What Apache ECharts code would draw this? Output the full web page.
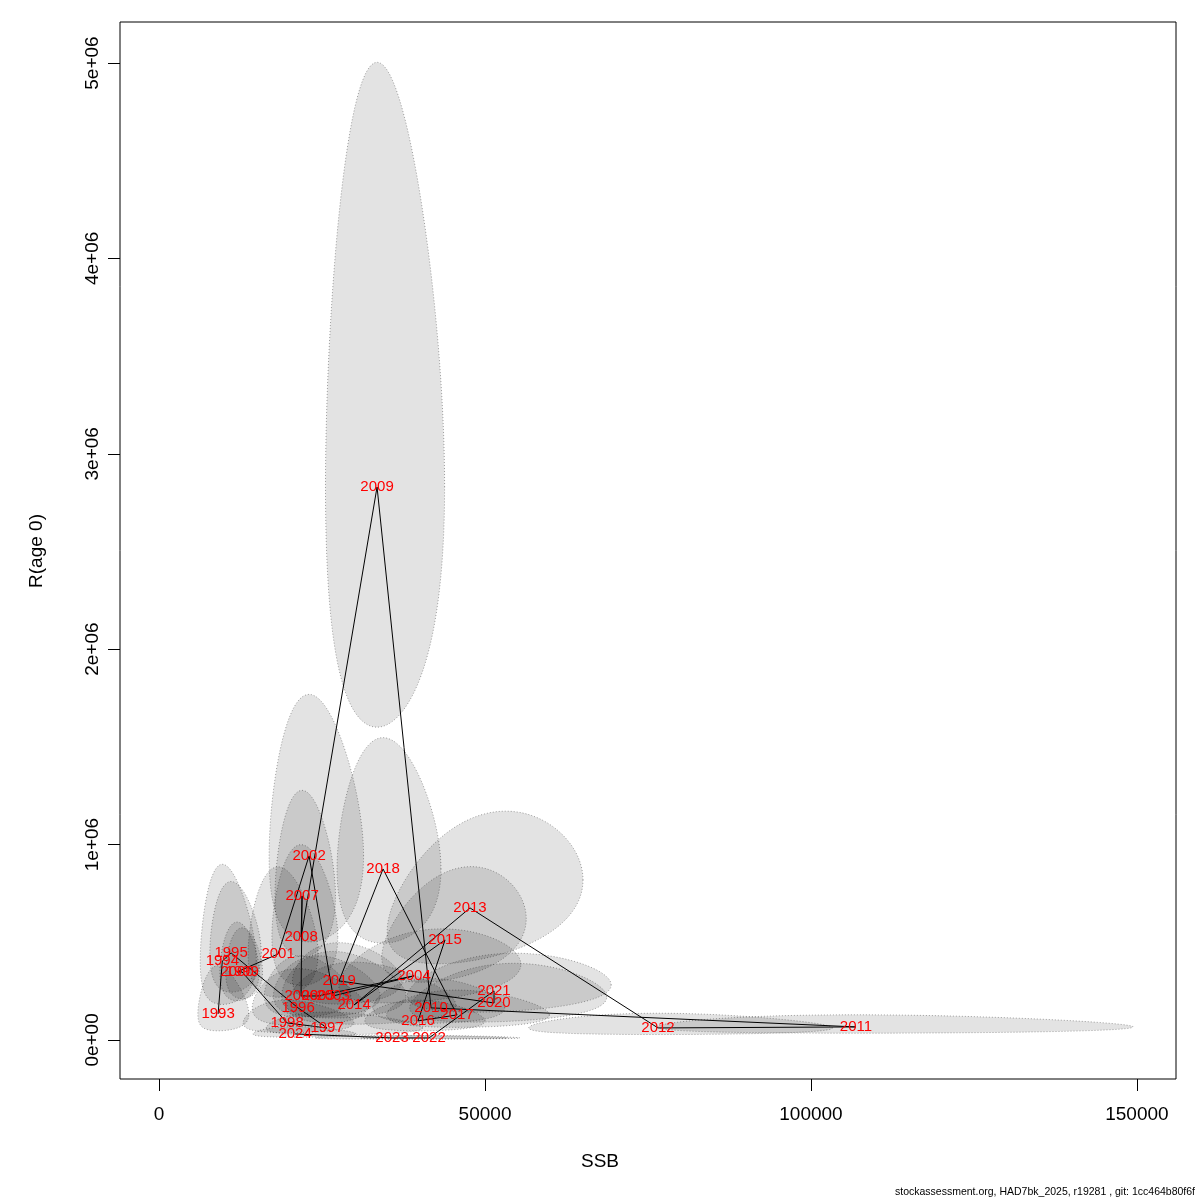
<!DOCTYPE html>
<html>
<head>
<meta charset="utf-8">
<script src="https://cdn.jsdelivr.net/npm/echarts@6/dist/echarts.min.js"></script>
<style>html,body{margin:0;padding:0;background:#fff}#c{width:1200px;height:1200px}</style>
</head>
<body>
<div id="c"></div>
<script>
const years = [1993,1994,1995,1996,1997,1998,1999,2000,2001,2002,2003,2004,2005,2006,2007,2008,2009,2010,2011,2012,2013,2014,2015,2016,2017,2018,2019,2020,2021,2022,2023,2024];
const ssb = [9049,9700,11043,21318,25766,19631,12730,11963,18251,23005,26686,39109,24386,21779,21932,21779,33435,41717,106898,76532,47698,29907,43864,39723,45704,34355,27607,51379,51379,41410,35735,20858];
const recruits = [133000,404000,445000,164000,61000,87000,348000,348000,440000,942000,225000,328000,225000,225000,737000,527000,2830000,164000,66500,61400,675600,179000,511800,97200,128000,875000,302000,189000,251000,10200,10200,30700];
// half-widths of the confidence ellipses on the log scale, and correlation
const halfLogSSB = [0.42,0.43,0.35,0.40,0.45,0.42,0.22,0.25,0.29,0.31,0.35,0.35,0.33,0.30,0.21,0.23,0.27,0.24,0.335,0.30,0.31,0.42,0.25,0.23,0.27,0.23,0.30,0.29,0.30,0.29,0.40,0.37];
const halfLogR = [1.05,0.8,0.6,0.8,0.85,0.85,0.5,0.55,0.7,0.63,0.7,0.55,0.65,0.65,0.55,0.64,0.57,0.65,0.66,0.8,0.55,0.8,0.55,0.74,0.69,0.57,0.5,0.73,0.57,0.8,0.8,0.8];
const corrLog = [0,0,0,0,0,0,0,0,0,0,0,0.3,0,0,0,0,0,0,0,0,0.35,0,0.35,0,0,0,0,0.2,0.2,0,0,0];
const xTicks = [0,50000,100000,150000];
const yTicks = [0,1000000,2000000,3000000,4000000,5000000];
const yTickLabels = ['0e+00','1e+06','2e+06','3e+06','4e+06','5e+06'];

const FONT = "'Liberation Sans', Arial, Helvetica, sans-serif";
const chart = echarts.init(document.getElementById('c'), null, {renderer:'canvas'});
const idx = years.map((y,i)=>[i]);
const linePts = years.map((y,i)=>[ssb[i], recruits[i]]);

chart.setOption({
  animation:false,
  backgroundColor:'#fff',
  grid:{left:120, top:22, right:24, bottom:121, show:true, borderColor:'#000', borderWidth:1, backgroundColor:'transparent'},
  xAxis:{type:'value', min:-6000, max:156000, splitLine:{show:false},
    axisLine:{show:false, onZero:false},
    axisTick:{show:true, customValues:xTicks, length:12, lineStyle:{color:'#000', width:1}},
    axisLabel:{customValues:xTicks, formatter:v=>String(v), fontSize:19, color:'#000', fontFamily:FONT, margin:26}
  },
  yAxis:{type:'value', min:-200000, max:5210000, splitLine:{show:false},
    axisLine:{show:false, onZero:false},
    axisTick:{show:true, customValues:yTicks, length:12, lineStyle:{color:'#000', width:1}},
    axisLabel:{customValues:yTicks, rotate:90, fontSize:19, color:'#000', fontFamily:FONT, margin:18,
      formatter:v=>{const k=yTicks.indexOf(v); return k>=0?yTickLabels[k]:'';}}
  },
  series:[
    {type:'custom', z:1, clip:true, data:idx, silent:true,
     renderItem:function(params, api){
       const i = api.value(0);
       const lx = Math.log(ssb[i]), ly = Math.log(recruits[i]);
       const ax = halfLogSSB[i], ay = halfLogR[i];
       const d = Math.acos(corrLog[i]);
       const pts = [];
       const N = 120;
       for(let k=0;k<N;k++){
         const t = 2*Math.PI*k/N;
         const x = Math.exp(lx + ax*Math.cos(t));
         const y = Math.exp(ly + ay*Math.cos(t - d));
         pts.push(api.coord([x,y]));
       }
       return {type:'polygon', shape:{points:pts},
         style:{fill:'rgba(0,0,0,0.11)', stroke:'rgba(0,0,0,0.35)', lineWidth:1, lineDash:[1,2]}};
     }},
    {type:'line', z:2, data:linePts, symbol:'none', smooth:false, silent:true,
     lineStyle:{color:'#000', width:1}},
    {type:'custom', z:3, data:idx, silent:true,
     renderItem:function(params, api){
       const i = api.value(0);
       const p = api.coord([ssb[i], recruits[i]]);
       return {type:'text', x:p[0], y:p[1], style:{text:String(years[i]), fill:'#ff0000',
         font:'15px '+FONT, align:'center', verticalAlign:'middle'}};
     }}
  ],
  graphic:[
    {type:'text', left:'center', top:1152, style:{text:'SSB', font:'19px '+FONT, fill:'#000'}},
    {type:'text', x:37, y:551, rotation:Math.PI/2, style:{text:'R(age 0)', font:'19px '+FONT, fill:'#000', align:'center', verticalAlign:'middle'}},
    {type:'text', right:5, top:1187, style:{text:'stockassessment.org, HAD7bk_2025, r19281 , git: 1cc464b80f6f', font:'10.5px '+FONT, fill:'#000'}}
  ]
});
</script>
</body>
</html>
